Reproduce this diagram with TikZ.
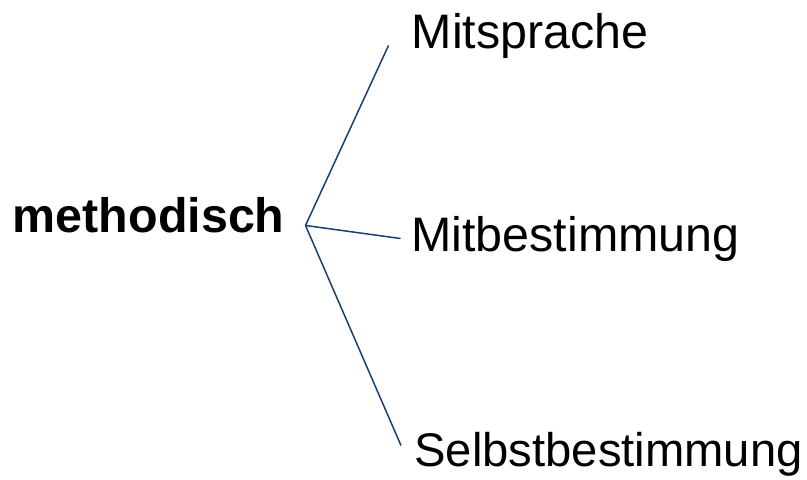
\documentclass[tikz,border=0pt]{standalone}
\usepackage{fontspec}
\setmainfont{Liberation Sans}
\definecolor{linie}{RGB}{23,64,115}

\begin{document}
\begin{tikzpicture}[x=0.5pt,y=-0.5pt]
\tikzset{wort/.style={anchor=base west, inner sep=0pt, font=\fontsize{24.2}{29}\selectfont},
         ast/.style={draw=linie, line width=0.75pt}}
\useasboundingbox (0,0) rectangle (807,480);
\node[wort, font=\fontsize{24.2}{29}\selectfont\bfseries] (methodisch) at (12.5,233) {methodisch};
\node[wort] (mitsprache) at (411.5,49) {Mitsprache};
\node[wort] (mitbest) at (411,252) {Mitbestimmung};
\node[wort, font=\fontsize{23.6}{28}\selectfont] (selbst) at (414,466.5) {Selbstbestimmung};
\coordinate (knoten) at (305.5,225.5);
\coordinate (endeA) at (388.5,45.5);
\coordinate (endeB) at (400.5,238.5);
\coordinate (endeC) at (401,445.5);
\foreach \e in {endeA,endeB,endeC}
    \draw[ast] (knoten) -- (\e);
\end{tikzpicture}
\end{document}
